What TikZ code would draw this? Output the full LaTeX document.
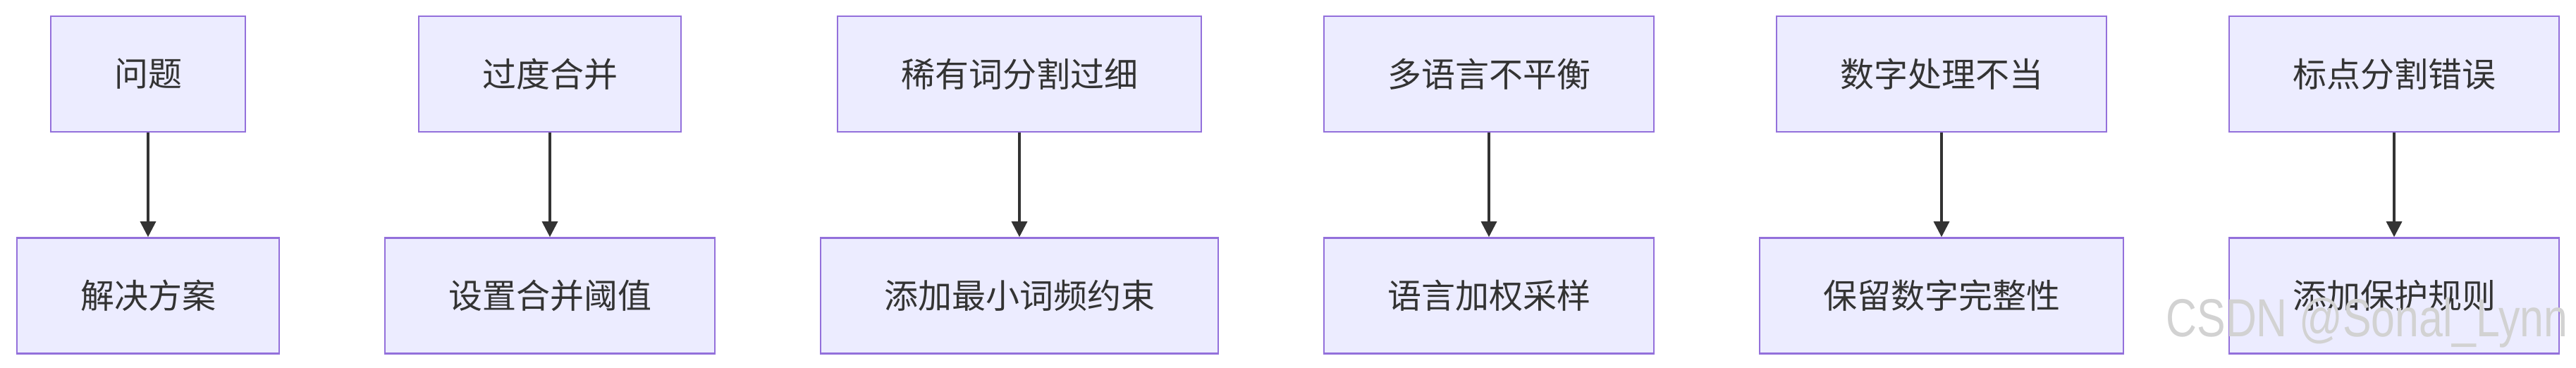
\documentclass[tikz,border=0pt]{standalone}
\usepackage{fontspec}
\newfontfamily\cjk{Noto Sans CJK SC}
\newfontfamily\wmfont{Liberation Sans}
\usetikzlibrary{positioning,arrows.meta}
\definecolor{boxfill}{HTML}{ECECFF}
\definecolor{boxline}{HTML}{9370DB}
\definecolor{edgecol}{HTML}{333333}

\begin{document}
\begin{tikzpicture}
\tikzset{
  box/.style = {draw=boxline, fill=boxfill, line width=1.2pt, text=edgecol,
    font=\cjk\fontsize{24pt}{28pt}\selectfont,
    inner xsep=45pt, inner ysep=0pt, minimum height=82pt},
  link/.style = {draw=edgecol, line width=1.6pt, -{Triangle[length=11pt,width=11pt]}}
}
\useasboundingbox (0,0) rectangle (1827pt,-261pt);
% hàng 1: vấn đề
\foreach \i/\x/\t in {1/105/问题, 2/390/过度合并, 3/723/稀有词分割过细,
  4/1056/多语言不平衡, 5/1377/数字处理不当, 6/1698/标点分割错误}
  \node[box] (p\i) at (\x pt,-52.5pt) {\t};
% hàng 2: giải pháp
\foreach \i/\t in {1/解决方案, 2/设置合并阈值, 3/添加最小词频约束,
  4/语言加权采样, 5/保留数字完整性, 6/添加保护规则}
  \node[box, below=74pt of p\i] (s\i) {\t};
\foreach \i in {1,...,6}
  \draw[link] (p\i) -- (s\i);
% watermark
\node[text=gray!35, font=\wmfont\fontsize{38pt}{40pt}\selectfont, xscale=0.8,
  anchor=south east] (wm) at (1824pt,-250pt) {CSDN @Sonal\_Lynn};
\end{tikzpicture}
\end{document}
